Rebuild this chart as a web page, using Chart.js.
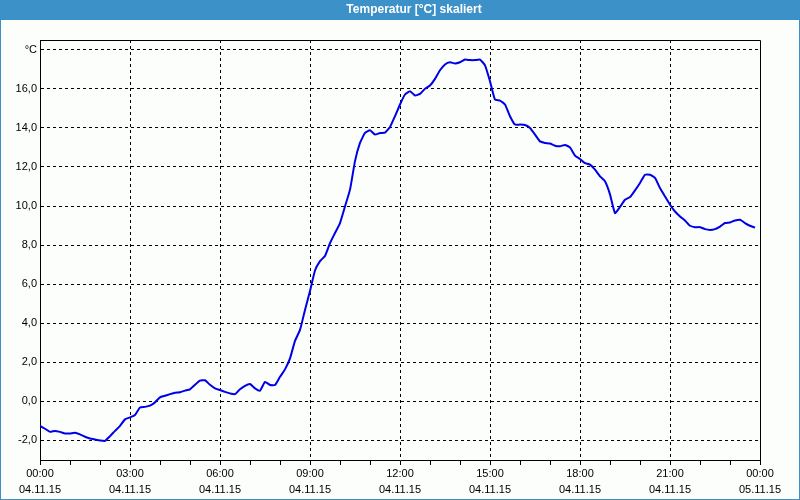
<!DOCTYPE html>
<html>
<head>
<meta charset="utf-8">
<title>Temperatur [°C] skaliert</title>
<script src="https://cdn.jsdelivr.net/npm/chart.js@4.4.1/dist/chart.umd.min.js"></script>
<style>
  html, body { margin: 0; padding: 0; background: #fcfefc; }
  #wrap { width: 800px; height: 500px; }
</style>
</head>
<body>
<div id="wrap"><canvas id="chart" width="800" height="500"></canvas></div>
<script>
// Messwerte alle 10 Minuten ab 04.11.15 00:00
const startMinute = 0;
const stepMinutes = 10;
const temperatures = [
  -1.25, -1.40, -1.56, -1.51, -1.56, -1.64, -1.64, -1.61, -1.69, -1.81,
  -1.90, -1.95, -2.00, -2.02, -1.78, -1.51, -1.25, -0.92, -0.82, -0.70,
  -0.31, -0.28, -0.22, -0.05, 0.21, 0.29, 0.37, 0.44, 0.47, 0.55,
  0.62, 0.85, 1.06, 1.08, 0.85, 0.67, 0.58, 0.49, 0.41, 0.37,
  0.62, 0.80, 0.89, 0.67, 0.55, 1.00, 0.84, 0.84, 1.26, 1.64,
  2.20, 3.10, 3.66, 4.68, 5.65, 6.70, 7.18, 7.44, 8.10, 8.62,
  9.13, 9.98, 10.84, 12.30, 13.23, 13.74, 13.88, 13.66, 13.74, 13.76,
  14.05, 14.60, 15.20, 15.71, 15.88, 15.66, 15.74, 16.00, 16.17, 16.51,
  16.95, 17.25, 17.36, 17.30, 17.36, 17.50, 17.47, 17.47, 17.50, 17.20,
  16.39, 15.45, 15.40, 15.20, 14.60, 14.17, 14.17, 14.15, 14.00, 13.66,
  13.31, 13.23, 13.20, 13.09, 13.06, 13.13, 13.00, 12.58, 12.41, 12.20,
  12.12, 11.86, 11.52, 11.27, 10.60, 9.64, 9.95, 10.32, 10.46, 10.80,
  11.18, 11.60, 11.60, 11.44, 10.92, 10.49, 10.07, 9.72, 9.47, 9.26,
  8.99, 8.92, 8.92, 8.82, 8.78, 8.82, 8.95, 9.13, 9.16, 9.26,
  9.30, 9.13, 8.99, 8.90
];

// Beschriftung der x-Achse (Minuten seit Start)
const xTickMinutes = [0, 180, 360, 540, 720, 900, 1080, 1260, 1440];
const xTickTimes = ['00:00', '03:00', '06:00', '09:00', '12:00', '15:00', '18:00', '21:00', '00:00'];
const xTickDates = ['04.11.15', '04.11.15', '04.11.15', '04.11.15', '04.11.15', '04.11.15', '04.11.15', '04.11.15', '05.11.15'];

// Beschriftung der y-Achse
const yTicks = [-2, 0, 2, 4, 6, 8, 10, 12, 14, 16, 18];
const yTickLabels = ['-2,0', '0,0', '2,0', '4,0', '6,0', '8,0', '10,0', '12,0', '14,0', '16,0', '°C'];

const titleText = 'Temperatur [°C] skaliert';
const blue = '#3c91c8';
const tickFont = { family: '"Liberation Sans", Arial, sans-serif', size: 11, lineHeight: 16 / 11 };

// Rahmen, Titelleiste und Hintergrund
const framePlugin = {
  id: 'frame',
  beforeDraw(chart) {
    const c = chart.ctx;
    c.save();
    c.fillStyle = '#fcfefc';
    c.fillRect(0, 0, chart.width, chart.height);
    c.restore();
  },
  afterDraw(chart) {
    const c = chart.ctx;
    const a = chart.chartArea;
    c.save();
    // Titelleiste
    c.fillStyle = blue;
    c.fillRect(0, 0, chart.width, 20);
    c.fillStyle = '#ffffff';
    c.font = 'bold 12px "Liberation Sans", Arial, sans-serif';
    c.textAlign = 'center';
    c.textBaseline = 'middle';
    c.fillText(titleText, 414, 10);
    // Außenrahmen
    c.strokeStyle = blue;
    c.lineWidth = 1;
    c.strokeRect(0.5, 0.5, chart.width - 1, chart.height - 1);
    // oberer und rechter Rand des Diagramms
    c.strokeStyle = '#000000';
    c.beginPath();
    c.moveTo(Math.round(a.left) + 0.5, Math.round(a.top) + 0.5);
    c.lineTo(Math.round(a.right) + 0.5, Math.round(a.top) + 0.5);
    c.lineTo(Math.round(a.right) + 0.5, Math.round(a.bottom) + 0.5);
    c.stroke();
    c.restore();
  }
};

const points = temperatures.map((v, i) => ({ x: startMinute + i * stepMinutes, y: v }));

new Chart(document.getElementById('chart'), {
  type: 'line',
  data: {
    datasets: [{
      label: titleText,
      data: points,
      borderColor: '#0000e6',
      borderWidth: 2,
      pointRadius: 0,
      tension: 0.15,
      fill: false
    }]
  },
  options: {
    responsive: false,
    animation: false,
    devicePixelRatio: 1,
    layout: { padding: { top: 40, right: 40, left: 0, bottom: 0 } },
    plugins: {
      legend: { display: false },
      title: { display: false },
      tooltip: { enabled: false }
    },
    scales: {
      x: {
        type: 'linear',
        min: 0,
        max: 1440,
        afterFit(s) { s.height = 40; },
        afterBuildTicks(s) {
          const t = [];
          for (let m = 0; m <= 1440; m += 60) t.push({ value: m });
          s.ticks = t;
        },
        grid: {
          color: (ctx) => {
            const v = ctx.tick ? ctx.tick.value : -1;
            return (v % 180 === 0 && v > 0 && v < 1440) ? '#000000' : 'rgba(0,0,0,0)';
          },
          lineWidth: 1,
          drawTicks: true,
          tickLength: 5,
          tickColor: '#000000',
          tickWidth: 1
        },
        border: { display: true, color: '#000000', width: 1, dash: [3, 3] },
        ticks: {
          autoSkip: false,
          maxRotation: 0,
          padding: 1,
          color: '#000000',
          font: tickFont,
          callback(value) {
            const i = xTickMinutes.indexOf(value);
            return i >= 0 ? [xTickTimes[i], xTickDates[i]] : '';
          }
        }
      },
      y: {
        type: 'linear',
        min: -3,
        max: 18.5,
        afterFit(s) { s.width = 40; },
        afterBuildTicks(s) { s.ticks = yTicks.map(v => ({ value: v })); },
        grid: {
          color: '#000000',
          lineWidth: 1,
          drawTicks: false,
          tickLength: 0
        },
        border: { display: true, color: '#000000', width: 1, dash: [3, 3] },
        ticks: {
          padding: 3,
          color: '#000000',
          font: tickFont,
          callback(value) {
            const i = yTicks.indexOf(value);
            return i >= 0 ? yTickLabels[i] : '';
          }
        }
      }
    }
  },
  plugins: [framePlugin]
});
</script>
</body>
</html>
